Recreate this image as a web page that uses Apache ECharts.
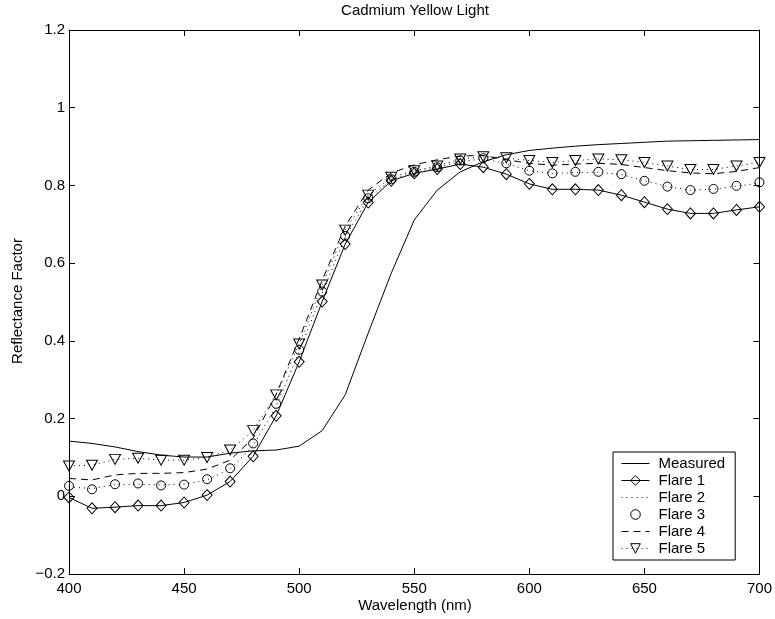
<!DOCTYPE html>
<html>
<head>
<meta charset="utf-8">
<script src="https://cdn.jsdelivr.net/npm/echarts@6/dist/echarts.min.js"></script>
<style>
  html, body { margin: 0; padding: 0; background: #fff; }
  #chart { width: 775px; height: 619px; }
</style>
</head>
<body>
<div id="chart"></div>
<script>
// Wavelength samples (nm)
const wavelengths = [400, 410, 420, 430, 440, 450, 460, 470, 480, 490, 500, 510, 520, 530, 540, 550,
                     560, 570, 580, 590, 600, 610, 620, 630, 640, 650, 660, 670, 680, 690, 700];

const measured = [0.142, 0.136, 0.127, 0.115, 0.106, 0.101, 0.101, 0.111, 0.117, 0.119, 0.129, 0.169,
                  0.261, 0.420, 0.574, 0.711, 0.788, 0.835, 0.861, 0.879, 0.890, 0.896, 0.901, 0.905,
                  0.908, 0.911, 0.914, 0.915, 0.916, 0.917, 0.918];

const flare1 = [-0.003, -0.031, -0.028, -0.024, -0.024, -0.016, 0.003, 0.038, 0.103, 0.207, 0.346, 0.501,
                0.649, 0.756, 0.812, 0.831, 0.842, 0.855, 0.847, 0.829, 0.804, 0.790, 0.790, 0.788,
                0.775, 0.757, 0.739, 0.728, 0.728, 0.737, 0.745];

const flare2 = [0.024, 0.020, 0.030, 0.031, 0.029, 0.031, 0.042, 0.070, 0.130, 0.232, 0.372, 0.523,
                0.667, 0.765, 0.815, 0.834, 0.846, 0.862, 0.868, 0.856, 0.838, 0.831, 0.833, 0.834,
                0.828, 0.812, 0.797, 0.788, 0.790, 0.798, 0.806];

const flare3 = [0.027, 0.018, 0.031, 0.033, 0.028, 0.030, 0.044, 0.072, 0.136, 0.238, 0.377, 0.527,
                0.670, 0.767, 0.816, 0.835, 0.847, 0.864, 0.870, 0.857, 0.838, 0.831, 0.835, 0.835,
                0.829, 0.812, 0.797, 0.788, 0.791, 0.799, 0.808];

const flare4 = [0.046, 0.042, 0.055, 0.059, 0.059, 0.061, 0.070, 0.093, 0.150, 0.262, 0.405, 0.556,
                0.695, 0.788, 0.832, 0.853, 0.866, 0.876, 0.877, 0.866, 0.857, 0.852, 0.855, 0.857,
                0.854, 0.846, 0.838, 0.832, 0.830, 0.836, 0.846];

const flare5 = [0.078, 0.080, 0.095, 0.098, 0.093, 0.093, 0.100, 0.119, 0.169, 0.261, 0.392, 0.544,
                0.685, 0.775, 0.821, 0.838, 0.850, 0.868, 0.874, 0.871, 0.864, 0.859, 0.864, 0.868,
                0.866, 0.859, 0.850, 0.841, 0.841, 0.850, 0.859];

const seriesNames = ['Measured', 'Flare 1', 'Flare 2', 'Flare 3', 'Flare 4', 'Flare 5'];

const FONT = 'Liberation Sans, Arial, Helvetica, sans-serif';
const pairs = ys => wavelengths.map((w, i) => [w, ys[i]]);
const hollow = { color: 'rgba(0,0,0,0)', borderColor: '#000', borderWidth: 1 };
const hiddenMark = { opacity: 0 };

const chart = echarts.init(document.getElementById('chart'), null, { renderer: 'canvas' });

const axisCommon = {
  axisLine: { show: true, onZero: false, lineStyle: { color: '#000', width: 1 } },
  axisTick: { show: true, inside: true, length: 6, lineStyle: { color: '#000', width: 1 } },
  splitLine: { show: false }
};

chart.setOption({
  animation: false,
  backgroundColor: '#fff',
  grid: { left: 69, right: 14, top: 30, bottom: 45, containLabel: false },
  xAxis: [
    Object.assign({
      type: 'value', min: 400, max: 700, interval: 50, position: 'bottom',
      axisLabel: { color: '#000', fontSize: 15, fontFamily: FONT, margin: 7 }
    }, axisCommon),
    Object.assign({
      type: 'value', min: 400, max: 700, interval: 50, position: 'top',
      axisLabel: { show: false }
    }, axisCommon)
  ],
  yAxis: [
    Object.assign({
      type: 'value', min: -0.2, max: 1.2, interval: 0.2, position: 'left',
      axisLabel: {
        color: '#000', fontSize: 15, fontFamily: FONT, margin: 4,
        formatter: v => String(Math.round(v * 10) / 10).replace('-', '\u2212')
      }
    }, axisCommon),
    Object.assign({
      type: 'value', min: -0.2, max: 1.2, interval: 0.2, position: 'right',
      axisLabel: { show: false }
    }, axisCommon)
  ],
  legend: {
    orient: 'vertical',
    left: 613, top: 452,
    data: [
      { name: 'Measured', itemStyle: hiddenMark },
      { name: 'Flare 1' },
      { name: 'Flare 2', itemStyle: hiddenMark },
      { name: 'Flare 3', lineStyle: { opacity: 0 } },
      { name: 'Flare 4', itemStyle: hiddenMark },
      { name: 'Flare 5' }
    ],
    itemWidth: 28, itemHeight: 12, itemGap: 0,
    padding: [3, 10, 3, 8],
    borderColor: '#000', borderWidth: 1, borderRadius: 0,
    backgroundColor: '#fff',
    selectedMode: false,
    itemStyle: { borderWidth: 1 },
    lineStyle: { width: 1 },
    textStyle: { color: '#000', fontSize: 15, fontFamily: FONT, lineHeight: 17, padding: [0, 0, 0, 4] }
  },
  graphic: [
    { type: 'text', x: 415, y: 11, style: { text: 'Cadmium Yellow Light', fill: '#000',
      font: '15px ' + FONT, textAlign: 'center', textVerticalAlign: 'middle' } },
    { type: 'text', x: 415, y: 606, style: { text: 'Wavelength (nm)', fill: '#000',
      font: '15px ' + FONT, textAlign: 'center', textVerticalAlign: 'middle' } },
    { type: 'text', x: 18, y: 301, rotation: Math.PI / 2, style: { text: 'Reflectance Factor', fill: '#000',
      font: '15px ' + FONT, textAlign: 'center', textVerticalAlign: 'middle' } }
  ],
  series: [
    {
      name: 'Measured', type: 'line', data: pairs(measured),
      symbol: 'none', showSymbol: false,
      lineStyle: { color: '#000', width: 1, type: 'solid' },
      itemStyle: { color: '#000' }
    },
    {
      name: 'Flare 1', type: 'line', data: pairs(flare1),
      symbol: 'diamond', symbolSize: [10, 11], showAllSymbol: true,
      lineStyle: { color: '#000', width: 1, type: 'solid' },
      itemStyle: hollow
    },
    {
      name: 'Flare 2', type: 'line', data: pairs(flare2),
      symbol: 'none', showSymbol: false,
      lineStyle: { color: '#000', width: 1, type: [1, 4] },
      itemStyle: { color: '#000' }
    },
    {
      name: 'Flare 3', type: 'line', data: pairs(flare3),
      symbol: 'circle', symbolSize: 9, showAllSymbol: true,
      lineStyle: { color: '#000', width: 0, opacity: 0 },
      itemStyle: hollow
    },
    {
      name: 'Flare 4', type: 'line', data: pairs(flare4),
      symbol: 'none', showSymbol: false,
      lineStyle: { color: '#000', width: 1, type: [7, 5] },
      itemStyle: { color: '#000' }
    },
    {
      name: 'Flare 5', type: 'line', data: pairs(flare5),
      symbol: 'triangle', symbolRotate: 180, symbolSize: [11, 10], showAllSymbol: true,
      lineStyle: { color: '#000', width: 1, type: [1, 4] },
      itemStyle: hollow
    }
  ]
});
</script>
</body>
</html>
